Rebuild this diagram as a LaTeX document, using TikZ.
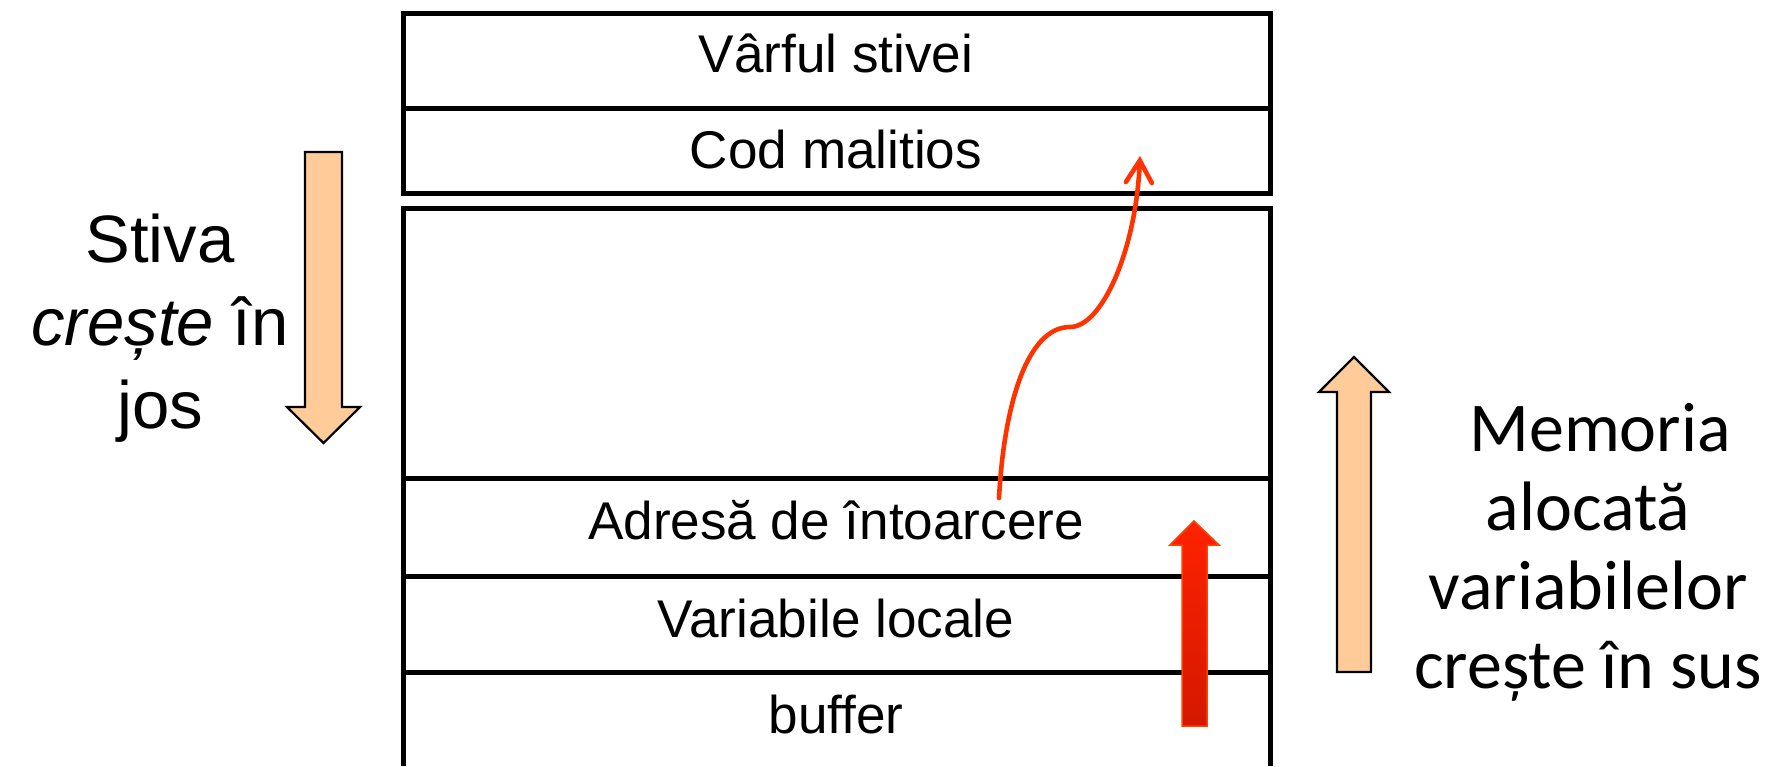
\documentclass[tikz,border=0pt]{standalone}
\usepackage{fontspec}
\setmainfont{Liberation Sans}
\newfontfamily\calibrifont{Carlito}
\usetikzlibrary{arrows.meta}
\definecolor{peach}{HTML}{FFCC99}
\definecolor{hotred}{HTML}{FF2200}
\definecolor{deepred}{HTML}{D41800}
\definecolor{jumpred}{HTML}{FF3300}
\tikzset{
  frame/.style={line width=0.05cm, draw=black},
  celltext/.style={anchor=base, inner sep=0pt, font=\fontsize{15.1}{18}\selectfont},
  sidetext/.style={align=center, inner sep=0pt, font=\fontsize{19.07}{23.6}\selectfont},
  memtext/.style={align=center, inner sep=0pt, font=\calibrifont\fontsize{19.9}{22.4}\selectfont},
  growarrow/.style={fill=peach, draw=black, line width=0.022cm, line join=miter},
  pusharrow/.style={draw=jumpred!80!orange, line width=0.015cm, top color=hotred, bottom color=deepred},
  jump/.style={draw=jumpred, line width=0.046cm, line cap=round,
    -{Straight Barb[length=0.22cm, width=0.26cm, line cap=round]}}
}
\begin{document}
\begin{tikzpicture}[x=0.01cm, y=-0.01cm]
\useasboundingbox (0,0) rectangle (1780,766);

% upper block: top of stack and injected code
\draw[frame] (403,13) rectangle (1270,193);
\draw[frame] (403,108) -- (1270,108);
% lower block: open at the bottom
\draw[frame] (403,766) -- (403,208) -- (1270,208) -- (1270,766);
\draw[frame] (403,478) -- (1270,478);
\draw[frame] (403,576) -- (1270,576);
\draw[frame] (403,672) -- (1270,672);

% cell labels
\node[celltext] (top) at (836,72) {Vârful stivei};
\node[celltext] (cod) at (836,168) {Cod malitios};
\node[celltext] (adr) at (836,539) {Adresă de întoarcere};
\node[celltext] (var) at (836,637) {Variabile locale};
\node[celltext] (buf) at (836,733) {buffer};

% overflow arrow from the buffer upwards
\path[pusharrow] (1182,726) -- (1182,545) -- (1170,545) -- (1194,521)
  -- (1219,545) -- (1207,545) -- (1207,726) -- cycle;

% hijacked return jump into the malicious code
\coordinate (ret) at (999,498);
\coordinate (mal) at (1140,156);
\draw[jump] (ret) .. controls (1004,405) and (1027,327) .. (1070,327)
  .. controls (1102,327) and (1136,250) .. (mal);

% stack growth direction (left)
\path[growarrow] (305,152) -- (342,152) -- (342,407) -- (360,407) -- (323.5,443)
  -- (287,407) -- (305,407) -- cycle;
\node[sidetext, anchor=base] (stiva) at (160,428) {Stiva\\\textit{crește} în\\jos};

% allocation growth direction (right)
\path[growarrow] (1337,672) -- (1337,392) -- (1319,392) -- (1354,357)
  -- (1389,392) -- (1371,392) -- (1371,672) -- cycle;
\node[memtext, anchor=base] (mem) at (1588,688) {\hspace*{0.24cm}Memoria\\alocată\\variabilelor\\crește în sus};
\end{tikzpicture}
\end{document}
